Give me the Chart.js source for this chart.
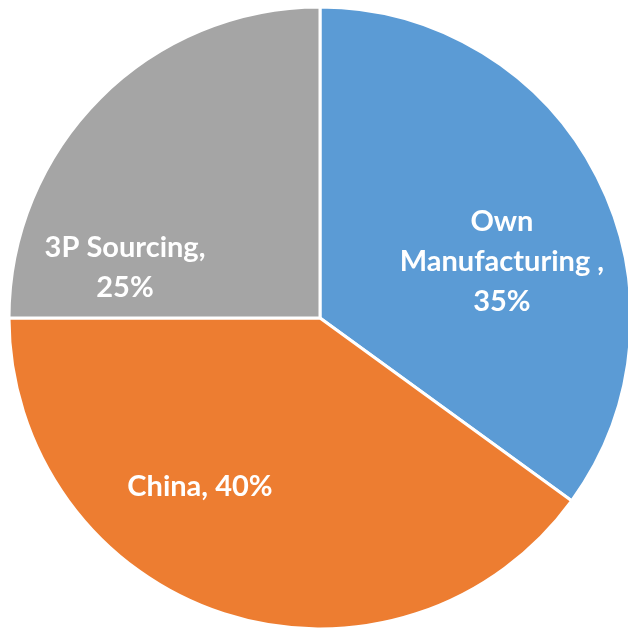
<!DOCTYPE html>
<html>
<head>
<meta charset="utf-8">
<script src="https://cdn.jsdelivr.net/npm/chart.js@4"></script>
<style>
  html, body { margin: 0; padding: 0; background: #fff; overflow: hidden; }
  #wrap { position: absolute; left: 0; top: 0; width: 640px; height: 636px; }
</style>
</head>
<body>
<div id="wrap"><canvas id="myPieChart" width="640" height="636"></canvas></div>
<script>
// chart data
const categories = ['Own Manufacturing ', 'China', '3P Sourcing'];
const shares = [35, 40, 25];
const slice_colors = ['#5B9BD5', '#ED7D31', '#A5A5A5'];

// label text lines per slice
const label_lines = [
    ['Own', 'Manufacturing ,', '35%'],
    ['China, 40%'],
    ['3P Sourcing,', '25%']
];
// label centre relative to pie centre, in units of radius
const label_offsets = [[0.585, -0.18], [-0.386, 0.543], [-0.627, -0.161]];

/**
 * draws slice labels inside the pie, like the excel ones
 **/
const pie_labels = {
    id: 'pie_labels',
    afterDatasetsDraw(chart) {
        const ctx = chart.ctx;
        const meta = chart.getDatasetMeta(0);
        ctx.save();
        ctx.fillStyle = '#ffffff';
        ctx.font = 'bold 29px Lato';
        ctx.textAlign = 'center';
        ctx.textBaseline = 'middle';
        meta.data.forEach((arc, i) => {
            const r = arc.outerRadius;
            const cx = arc.x + label_offsets[i][0] * r;
            const cy = arc.y + label_offsets[i][1] * r;
            const lines = label_lines[i];
            const lh = 40;
            lines.forEach((line, j) => {
                ctx.fillText(line, cx, cy + (j - (lines.length - 1) / 2) * lh);
            });
        });
        ctx.restore();
    }
};

const ctx = document.getElementById('myPieChart').getContext('2d');
new Chart(ctx, {
    type: 'pie',
    data: {
        labels: categories,
        datasets: [{
            data: shares,
            backgroundColor: slice_colors,
            borderColor: '#ffffff',
            borderWidth: 3
        }]
    },
    options: {
        responsive: false,
        animation: false,
        radius: 311,
        layout: { padding: 0 },
        plugins: {
            legend: { display: false },
            tooltip: { enabled: false }
        }
    },
    plugins: [pie_labels]
});
</script>
</body>
</html>
